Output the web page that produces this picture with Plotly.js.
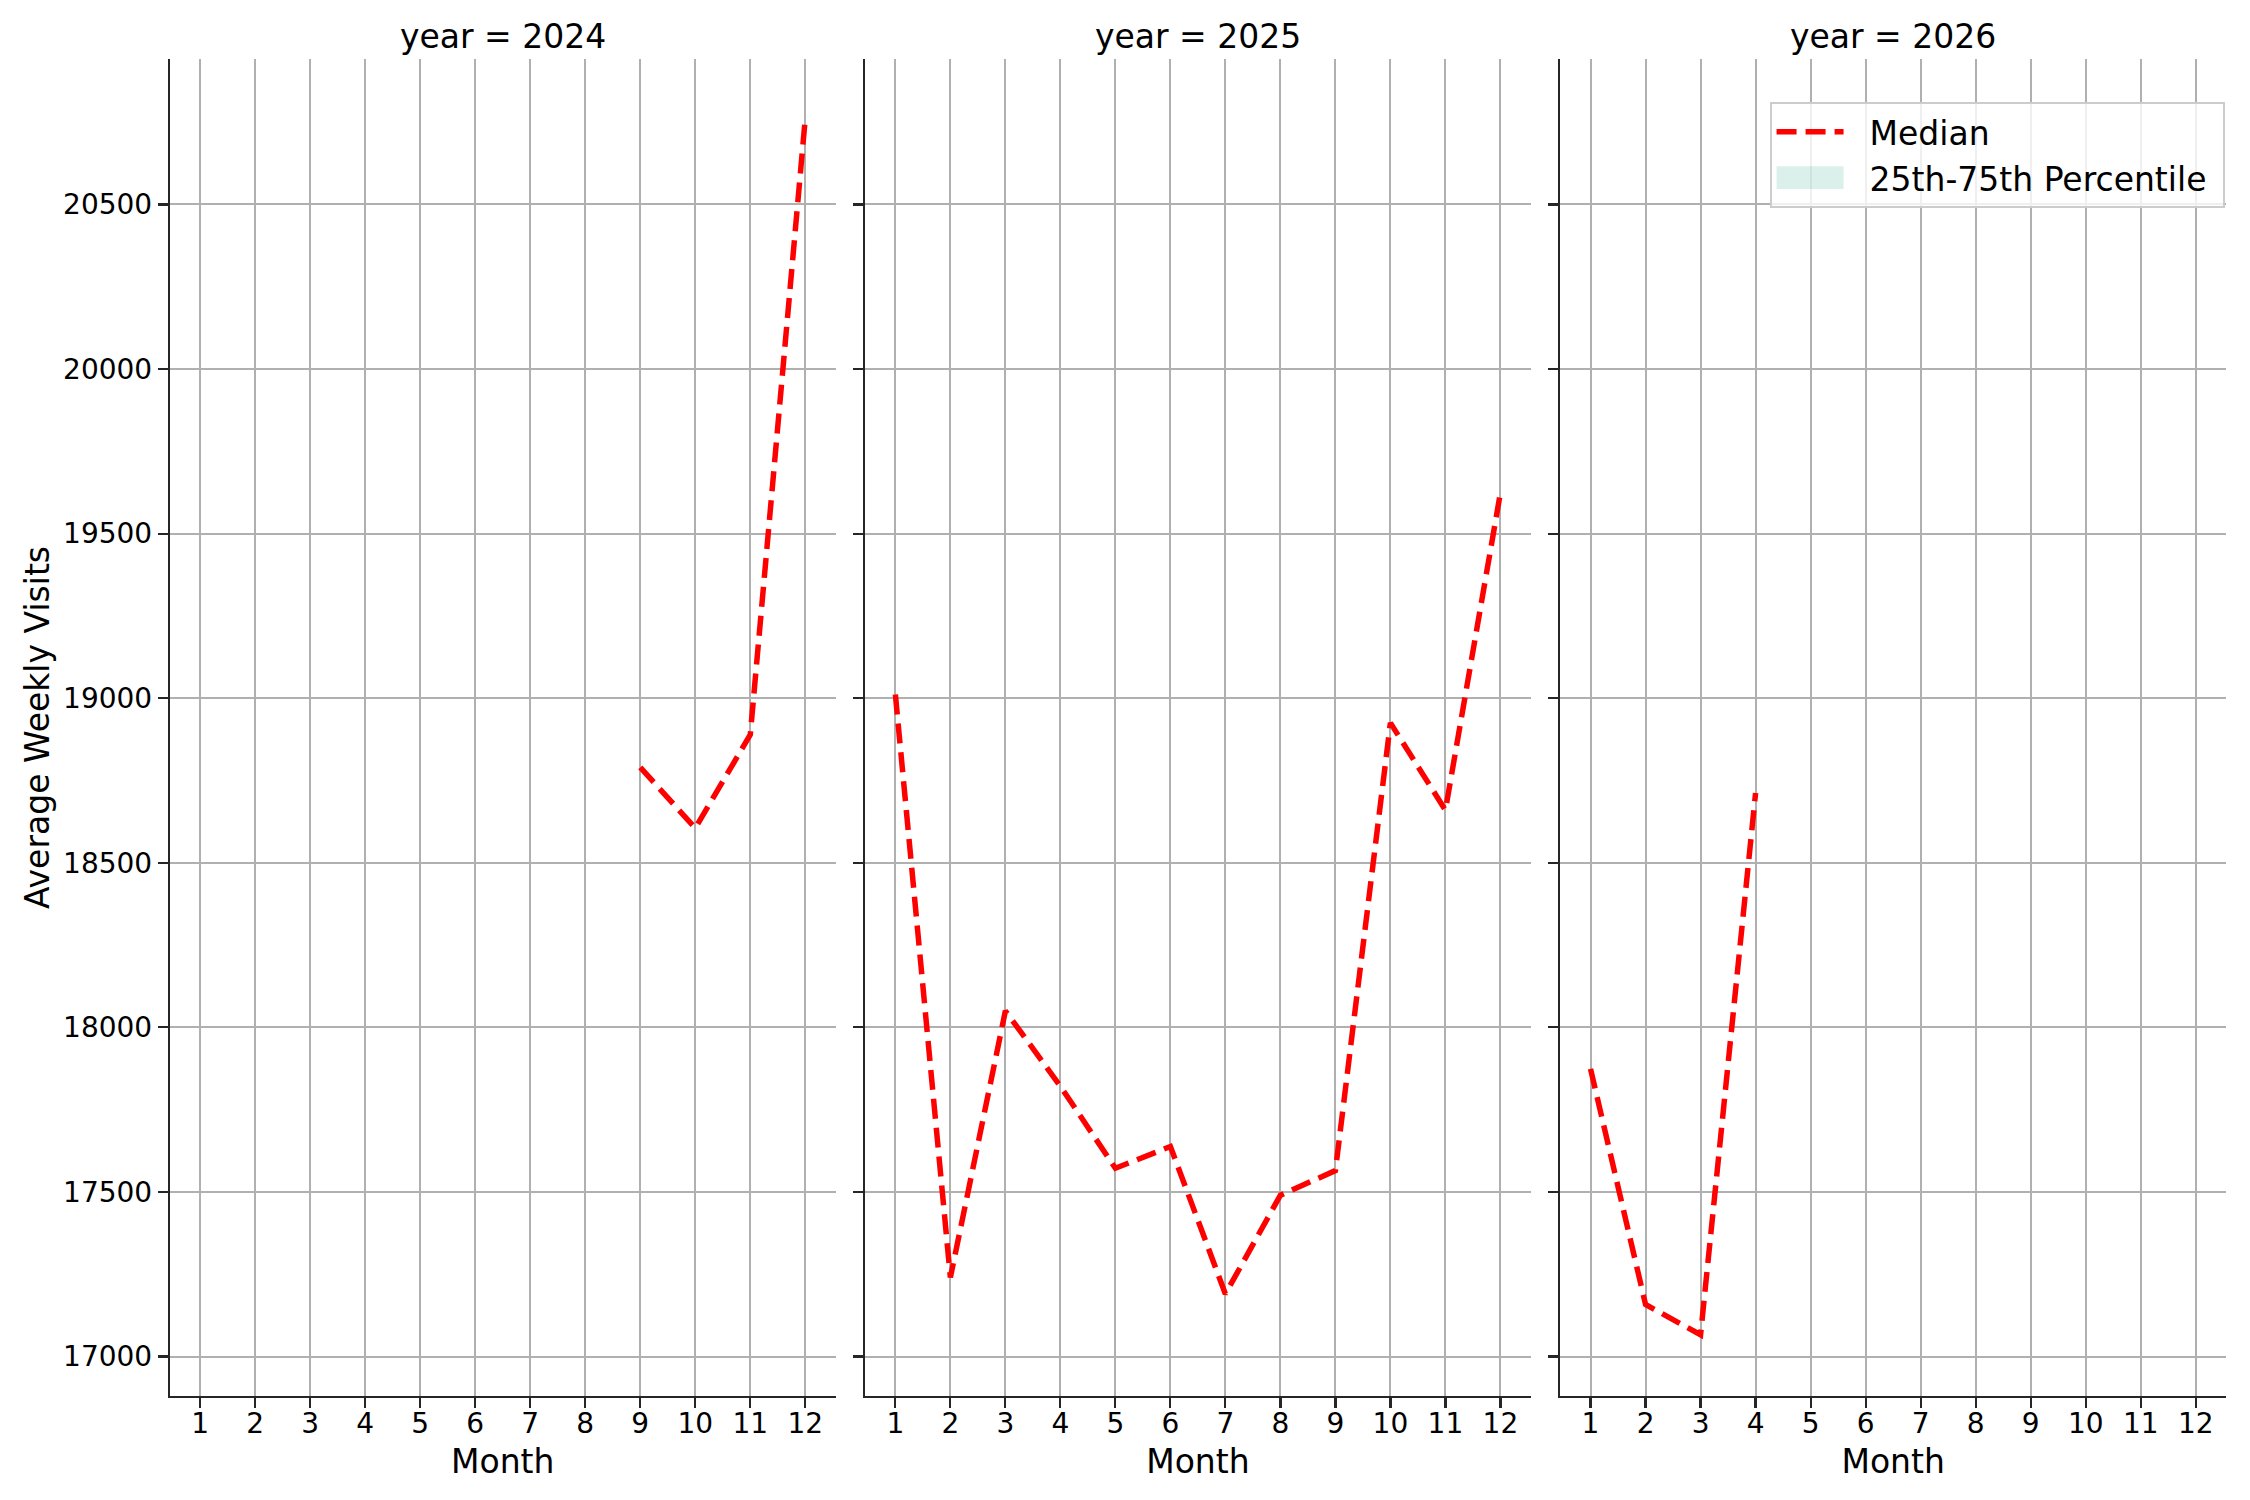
<!DOCTYPE html>
<html>
<head>
<meta charset="utf-8">
<script src="https://cdn.plot.ly/plotly-3.0.1.min.js"></script>
<style>
  html, body { margin: 0; padding: 0; background: #fff; }
  #plot { width: 2250px; height: 1500px; }
</style>
</head>
<body>
<div id="plot"></div>
<script>
// median of average weekly visits, one panel per year
var monthTicks = [1, 2, 3, 4, 5, 6, 7, 8, 9, 10, 11, 12];
var yTicks = [17000, 17500, 18000, 18500, 19000, 19500, 20000, 20500];

var months2024 = [9, 10, 11, 12];
var median2024 = [18790, 18605, 18889, 20762];
var q25_2024 = [18790, 18605, 18889, 20762];
var q75_2024 = [18790, 18605, 18889, 20762];

var months2025 = [1, 2, 3, 4, 5, 6, 7, 8, 9, 10, 11, 12];
var median2025 = [19011, 17240, 18050, 17821, 17572, 17638, 17190, 17490, 17565, 18925, 18660, 19624];
var q25_2025 = [19011, 17240, 18050, 17821, 17572, 17638, 17190, 17490, 17565, 18925, 18660, 19624];
var q75_2025 = [19011, 17240, 18050, 17821, 17572, 17638, 17190, 17490, 17565, 18925, 18660, 19624];

var months2026 = [1, 2, 3, 4];
var median2026 = [17874, 17158, 17066, 18712];
var q25_2026 = [17874, 17158, 17066, 18712];
var q75_2026 = [17874, 17158, 17066, 18712];

var panelTitles = ["year = 2024", "year = 2025", "year = 2026"];

var FONT = "DejaVu Sans";
var AX = "#262626";
var NB = "\u00a0";

function axId(prefix, n) { return prefix + (n > 1 ? n : ""); }

function medianTrace(x, y, n) {
  return {
    x: x, y: y, xaxis: axId("x", n), yaxis: axId("y", n),
    type: "scatter", mode: "lines",
    name: NB + NB + "Median", legendgroup: "median", legendrank: 1, showlegend: n === 1,
    line: {color: "red", width: 5.5, dash: "20px,9px"},
    hoverinfo: "skip"
  };
}

// lower then upper edge of the interquartile band
function bandTraces(x, lo, hi, n) {
  return [
    {
      x: x, y: lo, xaxis: axId("x", n), yaxis: axId("y", n),
      type: "scatter", mode: "none", showlegend: false, hoverinfo: "skip"
    },
    {
      x: x, y: hi, xaxis: axId("x", n), yaxis: axId("y", n),
      type: "scatter", mode: "none", fill: "tonexty", fillcolor: "rgba(80,180,155,0.2)",
      name: NB + NB + "25th-75th Percentile" + NB, legendgroup: "band", legendrank: 2,
      showlegend: n === 1, hoverinfo: "skip"
    }
  ];
}

var traces = []
  .concat(bandTraces(months2024, q25_2024, q75_2024, 1))
  .concat(bandTraces(months2025, q25_2025, q75_2025, 2))
  .concat(bandTraces(months2026, q25_2026, q75_2026, 3))
  .concat([
    medianTrace(months2024, median2024, 1),
    medianTrace(months2025, median2025, 2),
    medianTrace(months2026, median2026, 3)
  ]);

var domains = [[0, 0.3237], [0.3381, 0.6618], [0.6762, 1]];

function xAxis(i) {
  return {
    domain: domains[i], anchor: axId("y", i + 1),
    range: [0.45, 12.55], tickvals: monthTicks, ticktext: monthTicks.map(String),
    showgrid: true, gridcolor: "#b0b0b0", gridwidth: 2, zeroline: false,
    showline: true, linecolor: AX, linewidth: 2.2,
    ticks: "outside", ticklen: 10, tickwidth: 2.2, tickcolor: AX,
    ticklabelstandoff: -9,
    tickfont: {family: FONT, size: 28, color: "#000"},
    title: {text: "Month", font: {family: FONT, size: 33, color: "#000"}, standoff: 11},
    automargin: false, fixedrange: true
  };
}

function yAxis(i) {
  var ax = {
    anchor: axId("x", i + 1),
    range: [16880, 20942], tickvals: yTicks, ticktext: yTicks.map(String),
    showgrid: true, gridcolor: "#b0b0b0", gridwidth: 2, zeroline: false,
    showline: true, linecolor: AX, linewidth: 2.2,
    ticks: "outside", ticklen: 10, tickwidth: 2.2, tickcolor: AX,
    tickfont: {family: FONT, size: 28, color: "#000"},
    showticklabels: i === 0,
    automargin: false, fixedrange: true
  };
  if (i === 0) {
    ax.title = {text: "Average Weekly Visits", font: {family: FONT, size: 33, color: "#000"}, standoff: 4};
  } else {
    ax.matches = "y";
  }
  return ax;
}

var annotations = panelTitles.map(function (t, i) {
  return {
    text: t, xref: "paper", yref: "paper",
    x: (domains[i][0] + domains[i][1]) / 2, y: 1,
    xanchor: "center", yanchor: "bottom", yshift: 1,
    showarrow: false, font: {family: FONT, size: 33, color: "#000"}
  };
});

var layout = {
  width: 2250, height: 1500,
  margin: {l: 170, r: 24, t: 59, b: 104, pad: 0},
  paper_bgcolor: "#fff", plot_bgcolor: "#fff",
  font: {family: FONT, color: "#000"},
  showlegend: true,
  legend: {
    x: 0.778, y: 0.968, xanchor: "left", yanchor: "top",
    bgcolor: "rgba(255,255,255,0.8)", bordercolor: "#cccccc", borderwidth: 2,
    font: {family: FONT, size: 33, color: "#000"},
    itemwidth: 67, traceorder: "normal"
  },
  annotations: annotations,
  xaxis: xAxis(0), xaxis2: xAxis(1), xaxis3: xAxis(2),
  yaxis: yAxis(0), yaxis2: yAxis(1), yaxis3: yAxis(2)
};

Plotly.newPlot("plot", traces, layout, {displayModeBar: false, staticPlot: true}).then(function (gd) {
  // make the band's legend swatch a full-height patch like the original
  gd.querySelectorAll(".legend .legendfill path").forEach(function (p) {
    p.setAttribute("transform", "scale(1,3.83)");
  });
});
</script>
</body>
</html>
